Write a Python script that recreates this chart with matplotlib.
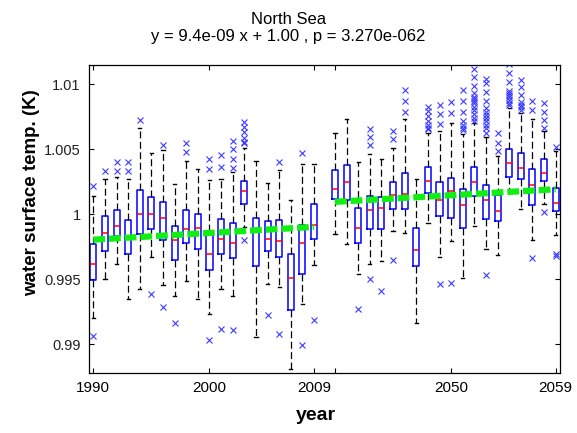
#!/usr/bin/env python3
# -*- coding: utf-8 -*-
""" Box plot of yearly water surface temperature, North Sea. """
import matplotlib

matplotlib.use("Agg")
import matplotlib.pyplot as plt

years_a = list(range(1990, 2010))
years_b = list(range(2040, 2060))

q1 = [0.99493, 0.99719, 0.99835, 0.99699, 0.99853, 0.99889, 0.99801, 0.99647, 0.99781, 0.99737,
      0.99575, 0.99699, 0.99665, 1.00079, 0.99601, 0.99719, 0.99673, 0.99262, 0.99545, 0.99809,
      1.00122, 1.00110, 0.99783, 0.99891, 0.99891, 1.00045, 1.00040, 0.99601, 1.00168, 0.99989,
      0.99976, 0.99894, 1.00143, 0.99963, 0.99948, 1.00289, 1.00271, 1.00076, 1.00258, 1.00025]
medians = [0.99622, 0.99858, 0.99912, 0.99809, 1.00000, 1.00000, 0.99975, 0.99806, 0.99891, 0.99899,
           0.99699, 0.99809, 0.99783, 1.00179, 0.99873, 0.99812, 0.99793, 0.99514, 0.99783, 0.99917,
           1.00197, 1.00251, 0.99899, 1.00037, 1.00053, 1.00153, 1.00161, 0.99724, 1.00258, 1.00115,
           1.00179, 1.00071, 1.00251, 1.00109, 1.00025, 1.00397, 1.00361, 1.00225, 1.00322, 1.00091]
q3 = [0.99776, 0.99989, 1.00037, 0.99955, 1.00189, 1.00135, 1.00099, 0.99909, 1.00035, 1.00007,
      0.99873, 0.99963, 0.99937, 1.00258, 0.99973, 0.99948, 0.99955, 0.99693, 0.99917, 1.00084,
      1.00340, 1.00379, 1.00053, 1.00143, 1.00135, 1.00251, 1.00322, 0.99899, 1.00366, 1.00251,
      1.00284, 1.00194, 1.00366, 1.00225, 1.00153, 1.00502, 1.00476, 1.00353, 1.00423, 1.00207]
whisker_hi = [1.00140, 1.00276, 1.00286, 1.00276, 1.00666, 1.00476, 1.00494, 1.00233, 1.00410, 1.00348,
              1.00268, 1.00276, 1.00328, 1.00510, 1.00412, 1.00243, 1.00343, 1.00114, 1.00387, 1.00392,
              1.00628, 1.00738, 1.00405, 1.00464, 1.00423, 1.00515, 1.00733, 1.00276, 1.00630, 1.00643,
              1.00700, 1.00620, 1.00705, 1.00597, 1.00448, 1.00820, 1.00777, 1.00733, 1.00645, 1.00487]
whisker_lo = [0.99206, 0.99506, 0.99619, 0.99352, 0.99424, 0.99673, 0.99460, 0.99373, 0.99486, 0.99352,
              0.99236, 0.99424, 0.99373, 0.99901, 0.99057, 0.99467, 0.99442, 0.98810, 0.99308, 0.99614,
              0.99848, 0.99771, 0.99539, 0.99622, 0.99640, 0.99873, 0.99858, 0.99165, 0.99937, 0.99673,
              0.99794, 0.99514, 0.99912, 0.99732, 0.99686, 1.00173, 1.00045, 0.99804, 1.00084, 0.99840]
outliers = [
    [1.00217, 0.99064], [1.00333], [1.00405, 1.00338], [1.00405, 1.00338], [1.00730],
    [0.99388], [1.00537, 0.99290], [0.99165], [1.00546, 1.00479], [],
    [1.00423, 1.00351, 0.99031], [1.00456, 1.00366, 0.99116],
    [1.00566, 1.00502, 1.00425, 1.00361, 0.99108],
    [1.00712, 1.00674, 1.00635, 1.00592, 1.00558, 1.00546, 0.99801],
    [], [0.99229], [1.00405, 0.99082], [], [1.00474, 0.98992], [0.99190],
    [], [], [0.99270], [1.00661, 1.00597, 1.00533, 0.99506], [0.99414],
    [1.00643, 1.00579, 0.99652], [1.00957, 1.00872, 1.00790], [],
    [1.00828, 1.00795, 1.00759, 1.00718, 1.00685, 1.00669, 1.00656],
    [1.00846, 1.00771, 1.00694, 0.99467], [1.00867, 1.00784, 0.99475],
    [1.00957, 1.00872, 1.00789, 1.00720, 1.00687, 1.00666, 1.00648],
    [1.01116, 1.01054, 1.00990, 1.00936, 1.00905, 1.00887, 1.00872, 1.00854, 1.00828,
     1.00802, 1.00772, 1.00739, 1.00720],
    [1.01039, 1.01008, 1.00943, 1.00874, 1.00816, 1.00789, 1.00769, 1.00739, 1.00720,
     1.00692, 1.00662, 1.00628, 0.99537],
    [1.00623, 1.00553, 1.00487],
    [1.01157, 1.01090, 1.01016, 1.00951, 1.00936, 1.00918, 1.00900, 1.00879, 1.00854, 1.00840],
    [1.01033, 1.00977, 1.00918, 1.00866, 1.00841, 1.00823, 1.00802],
    [1.00874, 1.00802, 0.99665],
    [1.00859, 1.00789, 1.00725, 1.00666, 1.00020],
    [1.00520, 0.99699, 0.99681],
]

# regression line at the ends of each period
trend_years = [[1990, 2009], [2040, 2059]]
trend_values = [[0.99806, 0.99904], [1.00097, 1.00194]]

xtick_years = [1990, 2000, 2009, 2040, 2050, 2059]
xtick_labels = ["1990", "2000", "2009", "", "2050", "2059"]
ytick_values = [0.99, 0.995, 1.0, 1.005, 1.01]
ytick_labels = ["0.99", "0.995", "1", "1.005", "1.01"]

title_lines = ["North Sea", "y = 9.4e-09 x + 1.00 , p = 3.270e-062"]

GAP = 20.8  # position of the first year of the second period


def year_pos(year: int) -> float:
    """Map a year onto the compressed x axis."""
    return year - 1990 if year < 2040 else year - 2040 + GAP


def main() -> None:
    plt.rcParams["font.family"] = ["Liberation Sans", "DejaVu Sans"]
    plt.rcParams["lines.scale_dashes"] = False
    fig = plt.figure(figsize=(5.77, 4.33), dpi=100)
    ax = fig.add_axes([89 / 577, 1 - 373 / 433, (560 - 89) / 577, (373 - 65) / 433])

    years = years_a + years_b
    stats = [
        dict(q1=a, med=m, q3=b, whislo=lo, whishi=hi, fliers=f)
        for a, m, b, lo, hi, f in zip(q1, medians, q3, whisker_lo, whisker_hi, outliers)
    ]
    ax.bxp(
        stats,
        positions=[year_pos(y) for y in years],
        widths=0.52,
        capwidths=0.28,
        boxprops=dict(color="#0000ff", linewidth=1.1),
        medianprops=dict(color="#ff0000", linewidth=1.1),
        whiskerprops=dict(color="black", linewidth=0.9, linestyle=(0, (5.0, 2.5))),
        capprops=dict(color="black", linewidth=1.0),
        flierprops=dict(marker="x", markeredgecolor="#3a3aff", markersize=5, markeredgewidth=0.8),
        manage_ticks=False,
    )

    for ys, vs in zip(trend_years, trend_values):
        ax.plot([year_pos(y) for y in ys], vs, color="#11ee11", linewidth=4.5,
                dashes=(8.5, 2.8), solid_capstyle="butt", dash_capstyle="butt", zorder=5)

    ax.set_xlim(-0.37, 40.17)
    ax.set_ylim(0.9878, 1.0115)
    ax.set_xticks([year_pos(y) for y in xtick_years])
    ax.set_xticklabels(xtick_labels, fontsize=11)
    ax.set_yticks(ytick_values)
    ax.set_yticklabels(ytick_labels, fontsize=10.5, color="#222222")
    ax.tick_params(direction="in", length=3.5, width=0.8, top=True, right=True, pad=6)
    for spine in ax.spines.values():
        spine.set_linewidth(0.9)

    fig.text(0.5, 1 - 20 / 433, title_lines[0], ha="center", va="center", fontsize=12)
    fig.text(0.5, 1 - 36 / 433, title_lines[1], ha="center", va="center", fontsize=12)
    fig.text(316 / 577, 1 - 415 / 433, "year", ha="center", va="center",
             fontsize=14, fontweight="bold")
    fig.text(32 / 577, 1 - 193 / 433, "water surface temp. (K)", ha="center", va="center",
             rotation=90, fontsize=13.5, fontweight="bold")

    fig.savefig("out.png", dpi=100)


if __name__ == "__main__":
    main()
